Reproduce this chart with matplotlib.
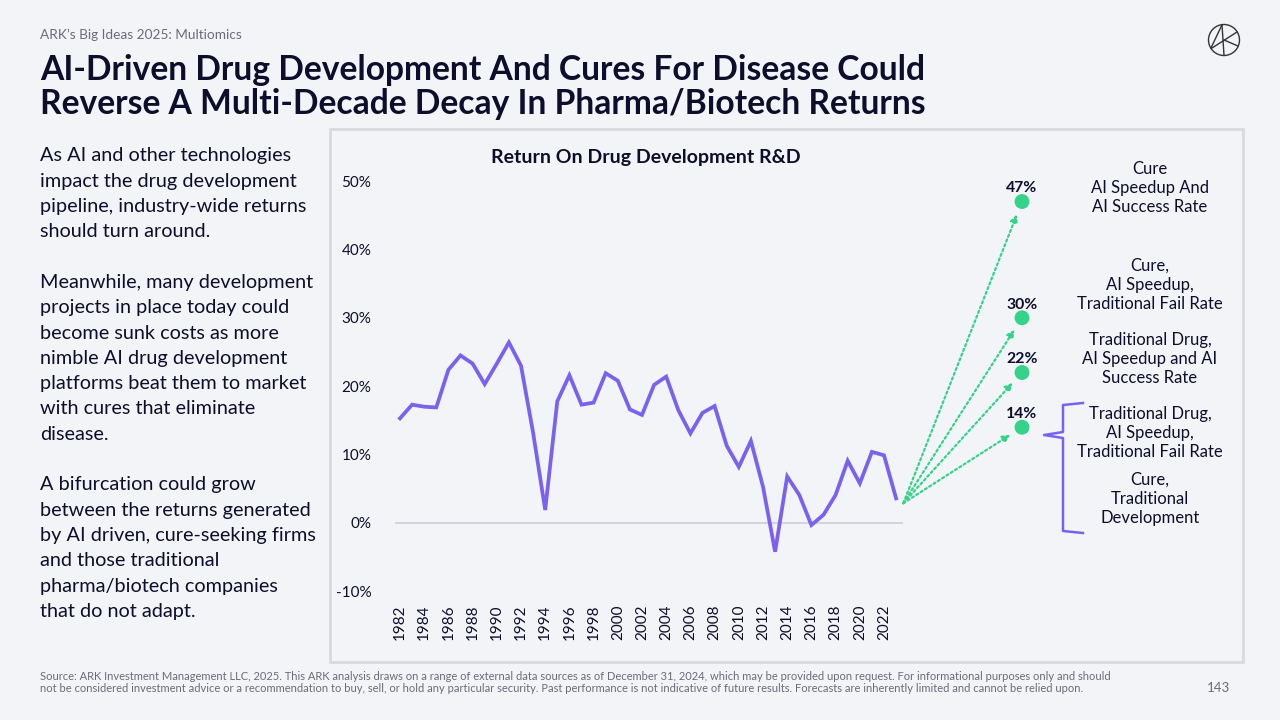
import matplotlib
matplotlib.use("Agg")
import matplotlib.pyplot as plt
from matplotlib.patches import Rectangle, Ellipse
from matplotlib.lines import Line2D

plt.rcParams['font.family'] = ['Lato', 'DejaVu Sans']

# ---------------- data ----------------
years = list(range(1982, 2024))
returns = [15.3, 17.3, 17.0, 16.9, 22.4, 24.5, 23.3, 20.3, 23.3, 26.4,
           23.0, 13.2, 1.9, 17.8, 21.6, 17.3, 17.6, 21.9, 20.8, 16.6,
           15.8, 20.2, 21.4, 16.5, 13.1, 16.1, 17.1, 11.3, 8.2, 12.0,
           5.3, -4.2, 6.8, 4.1, -0.3, 1.2, 4.1, 9.1, 5.8, 10.4,
           9.9, 3.6]
xtick_years = list(range(1982, 2023, 2))
ytick_vals = [-10, 0, 10, 20, 30, 40, 50]
proj_values = [47, 30, 22, 14]
proj_labels = ["47%", "30%", "22%", "14%"]
scenario_texts = [
    "Cure\nAI Speedup And\nAI Success Rate",
    "Cure,\nAI Speedup,\nTraditional Fail Rate",
    "Traditional Drug,\nAI Speedup and AI\nSuccess Rate",
    "Traditional Drug,\nAI Speedup,\nTraditional Fail Rate",
    "Cure,\nTraditional\nDevelopment",
]
body_lines = [
    "As AI and other technologies",
    "impact the drug development",
    "pipeline, industry-wide returns",
    "should turn around.",
    "",
    "Meanwhile, many development",
    "projects in place today could",
    "become sunk costs as more",
    "nimble AI drug development",
    "platforms beat them to market",
    "with cures that eliminate",
    "disease.",
    "",
    "A bifurcation could grow",
    "between the returns generated",
    "by AI driven, cure-seeking firms",
    "and those traditional",
    "pharma/biotech companies",
    "that do not adapt.",
]

# ---------------- style ----------------
BG = "#f3f4f8"
DARK = "#0e0e2c"
PURPLE = "#7b61f0"
GREEN = "#35d38a"
GRAY = "#6b6b7b"

W, H = 1280, 720
fig = plt.figure(figsize=(12.8, 7.2), dpi=100, facecolor=BG)

def fx(px):
    return px / W

def fy(py):
    return 1 - py / H

# panel
fig.patches.append(Rectangle((fx(330), fy(662)), fx(1243) - fx(330), (662 - 129) / H,
                             transform=fig.transFigure, facecolor=BG,
                             edgecolor="#d9d9de", lw=2, zorder=-5))

# header
fig.text(fx(40), fy(35), "ARK\u2019s Big Ideas 2025: Multiomics", fontsize=9.8,
         color=GRAY, va="center", ha="left")
fig.text(fx(40), fy(70), "AI-Driven Drug Development And Cures For Disease Could",
         fontsize=24.2, fontweight="bold", color=DARK, va="center", ha="left")
fig.text(fx(40), fy(104), "Reverse A Multi-Decade Decay In Pharma/Biotech Returns",
         fontsize=24.2, fontweight="bold", color=DARK, va="center", ha="left")

# logo
fig.patches.append(Ellipse((fx(1224), fy(40)), 31 / W, 31 / H, transform=fig.transFigure,
                           fill=False, edgecolor="#333", lw=1.0))
for (x1, y1, x2, y2) in [(1222, 24.8, 1211, 48), (1222, 24.8, 1224, 55.3),
                          (1212, 48, 1237, 32), (1224, 40, 1238, 46)]:
    fig.lines.append(Line2D([fx(x1), fx(x2)], [fy(y1), fy(y2)], transform=fig.transFigure,
                            color="#333", lw=1.0))

# body text
for i, line in enumerate(body_lines):
    if line:
        fig.text(fx(40), fy(156 + i * 25.3), line, fontsize=14.3, color=DARK,
                 va="center", ha="left")

# footer
fig.text(fx(40), fy(676), "Source: ARK Investment Management LLC, 2025. This ARK analysis draws on a range of external data sources as of December 31, 2024, which may be provided upon request. For informational purposes only and should",
         fontsize=8.0, color=GRAY, va="center", ha="left")
fig.text(fx(40), fy(688), "not be considered investment advice or a recommendation to buy, sell, or hold any particular security. Past performance is not indicative of future results. Forecasts are inherently limited and cannot be relied upon.",
         fontsize=8.0, color=GRAY, va="center", ha="left")
fig.text(fx(1230), fy(688), "143", fontsize=9.5, color=GRAY, va="center", ha="right")

# ---------------- axes ----------------
ax_l, ax_r, ax_t, ax_b = 395, 1240, 140, 598
ax = fig.add_axes([fx(ax_l), fy(ax_b), fx(ax_r) - fx(ax_l), (ax_b - ax_t) / H])
ax.set_facecolor("none")
px_per_year = 12.1
px_per_pct = 6.84
zero_py = 523
ax.set_xlim(1982 + (ax_l - 400) / px_per_year, 1982 + (ax_r - 400) / px_per_year)
ax.set_ylim((zero_py - ax_b) / px_per_pct, (zero_py - ax_t) / px_per_pct)
for s in ax.spines.values():
    s.set_visible(False)

ax.set_yticks(ytick_vals)
ax.set_yticklabels([f"{v}%" for v in ytick_vals], fontsize=11, color=DARK)
ax.set_xticks(xtick_years)
ax.set_xticklabels([str(y) for y in xtick_years], rotation=90, fontsize=11, color=DARK)
ax.tick_params(length=0, axis="y", pad=17)
ax.tick_params(length=0, axis="x", pad=5)

ax.plot([ax.get_xlim()[0], years[-1] + 0.5], [0, 0], color="#d0d0d6", lw=1.3, zorder=1)
ax.plot(years, returns, color=PURPLE, lw=2.7, zorder=3, solid_joinstyle="miter")

ax.text(2002.3, 53.4, "Return On Drug Development R&D", fontsize=14,
        fontweight="bold", color=DARK, ha="center", va="center")

# projections
proj_x = 1982 + (1022 - 400) / px_per_year
start = (years[-1] + 0.6, 2.9)
for v, lab in zip(proj_values, proj_labels):
    ax.annotate("", xy=(proj_x, v), xytext=start,
                arrowprops=dict(arrowstyle="-|>", linestyle=(0, (1, 1.3)), color=GREEN,
                                lw=1.6, mutation_scale=11, shrinkA=0, shrinkB=10),
                zorder=4)
    ax.scatter([proj_x], [v], s=115, color=GREEN, zorder=5, edgecolors="none")
    ax.text(proj_x, v + 0.9, lab, fontsize=11.3, fontweight="bold", color=DARK,
            ha="center", va="bottom", zorder=6)

# scenario texts (figure coords)
for txt, cy in zip(scenario_texts, [188, 285, 359, 433, 499]):
    fig.text(fx(1150), fy(cy), txt, fontsize=12.0, color=DARK, ha="center",
             va="center", linespacing=1.25)

# bracket
bx = [1083, 1063, 1063, 1044, 1063, 1063, 1083]
by = [403, 405, 432, 435, 438, 531, 533]
fig.lines.append(Line2D([fx(x) for x in bx], [fy(y) for y in by], transform=fig.transFigure,
                        color=PURPLE, lw=1.8, solid_joinstyle="round"))

fig.savefig("out.png", dpi=100, facecolor=BG)
